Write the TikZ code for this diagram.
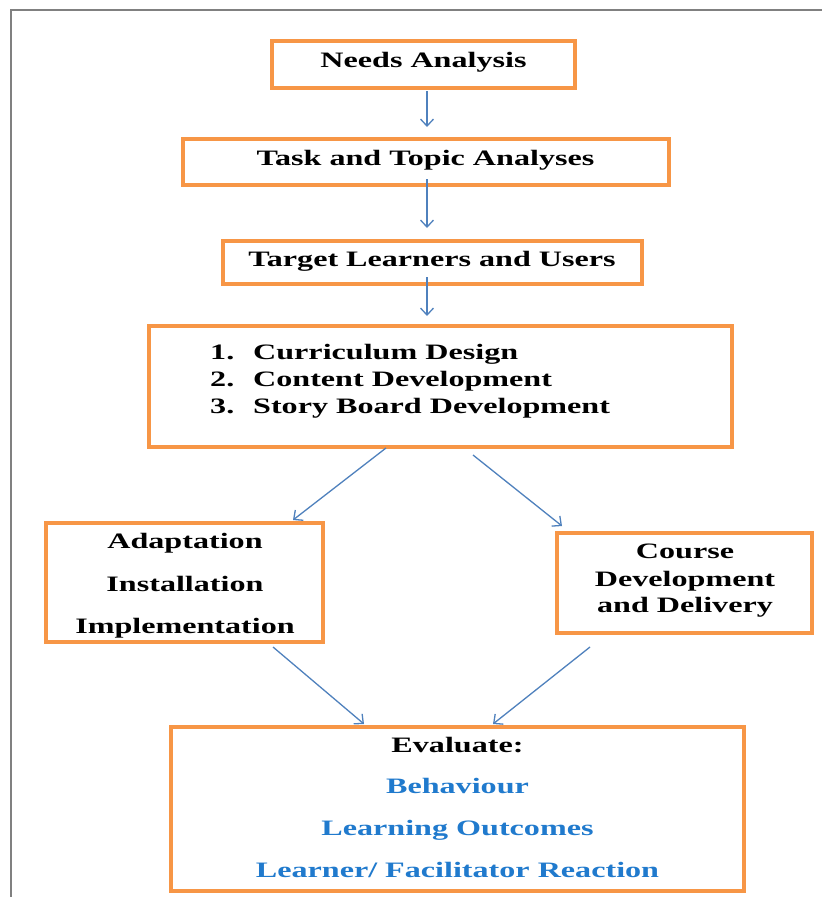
\documentclass[tikz,border=0pt]{standalone}
\usepackage{fontspec}
\setmainfont{Liberation Serif}[FakeStretch=1.46]
\usetikzlibrary{arrows.meta}
\definecolor{boxorange}{RGB}{247,150,70}
\definecolor{arrowblue}{RGB}{79,129,189}
\definecolor{textblue}{RGB}{32,122,205}
\definecolor{framegrey}{RGB}{128,128,128}
\tikzset{
  stagebox/.style={draw=boxorange, line width=4pt, rectangle, inner sep=0pt, fill=none},
  arr/.style={draw=arrowblue, line width=1.3pt, -{Straight Barb[length=7pt,width=13pt]}},
  txt/.style={font=\fontsize{22}{26}\selectfont\bfseries, anchor=base, inner sep=0pt},
  bluetxt/.style={txt, text=textblue},
}
\begin{document}
\begin{tikzpicture}[x=1pt, y=-1pt]
\useasboundingbox (0,0) rectangle (822,897);
\fill[white] (0,0) rectangle (822,897);
% page frame
\draw[framegrey, line width=1.5pt] (822,10) -- (11,10) -- (11,897);

% boxes
\node[stagebox, minimum width=303pt, minimum height=47pt] (needs) at (423.5,64.5) {};
\node[stagebox, minimum width=486pt, minimum height=46pt] (task) at (426,162) {};
\node[stagebox, minimum width=419pt, minimum height=43pt] (target) at (432.5,262.5) {};
\node[stagebox, minimum width=583pt, minimum height=121pt] (curr) at (440.5,386.5) {};
\node[stagebox, minimum width=277pt, minimum height=119pt] (adapt) at (184.5,582.5) {};
\node[stagebox, minimum width=255pt, minimum height=100pt] (course) at (684.5,583) {};
\node[stagebox, minimum width=573pt, minimum height=164pt] (eval) at (457.5,809) {};

% texts
\node[txt] (needsT) at (423.5,67) {Needs Analysis};
\node[txt] (taskT) at (425.5,165) {Task and Topic Analyses};
\node[txt] (targetT) at (432,266) {Target Learners and Users};

\node[txt, anchor=base west] (currA) at (210,359) {\makebox[43pt][l]{1.}Curriculum Design};
\node[txt, anchor=base west] (currB) at (210,386) {\makebox[43pt][l]{2.}Content Development};
\node[txt, anchor=base west] (currC) at (210,413) {\makebox[43pt][l]{3.}Story Board Development};

\node[txt] (adaptA) at (185,548) {Adaptation};
\node[txt] (adaptB) at (185,591) {Installation};
\node[txt] (adaptC) at (185,633) {Implementation};

\node[txt] (courseA) at (685,558) {Course};
\node[txt] (courseB) at (685,586) {Development};
\node[txt] (courseC) at (685,612) {and Delivery};

\node[txt] (evalA) at (457.5,752) {Evaluate:};
\node[bluetxt] (evalB) at (457.5,793) {Behaviour};
\node[bluetxt] (evalC) at (457.5,835) {Learning Outcomes};
\node[bluetxt] (evalD) at (457.5,877) {Learner/ Facilitator Reaction};

% connectors
\draw[arr] ([xshift=3.5pt,yshift=-1pt]needs.south) -- ([xshift=1pt,yshift=10pt]task.north);
\draw[arr] ([xshift=1pt,yshift=8pt]task.south) -- ([xshift=-5.5pt,yshift=11pt]target.north);
\draw[arr] ([xshift=-5.5pt,yshift=9pt]target.south) -- ([xshift=-13.5pt,yshift=8pt]curr.north);
\draw[arr] ([xshift=-54.5pt,yshift=1pt]curr.south) -- ([xshift=108.5pt,yshift=1pt]adapt.north);
\draw[arr] ([xshift=32.5pt,yshift=-6pt]curr.south) -- ([xshift=-122.5pt,yshift=5pt]course.north);
\draw[arr] ([xshift=88.5pt,yshift=-3pt]adapt.south) -- ([xshift=-93.5pt,yshift=1pt]eval.north);
\draw[arr] ([xshift=-94.5pt,yshift=-12pt]course.south) -- ([xshift=35.5pt,yshift=1pt]eval.north);
\end{tikzpicture}
\end{document}
